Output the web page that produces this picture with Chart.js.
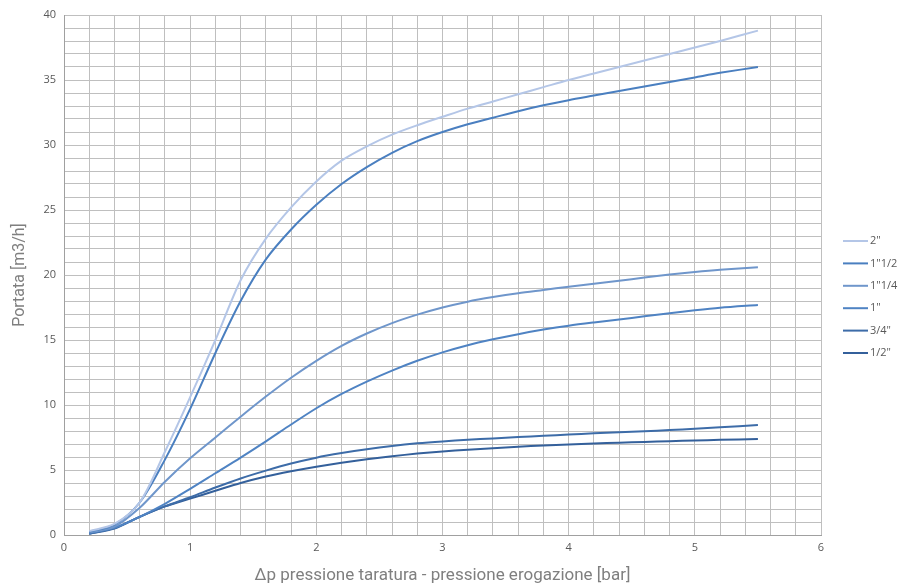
<!DOCTYPE html>
<html>
<head>
<meta charset="utf-8">
<script src="https://cdn.jsdelivr.net/npm/chart.js@4.4.1/dist/chart.umd.min.js"></script>
<style>
  html, body { margin: 0; padding: 0; background: #fff; }
  #wrap { width: 900px; height: 586px; }
</style>
</head>
<body>
<div id="wrap"><canvas id="flowChart"></canvas></div>
<script>
// Δp [bar] sample positions
const pressure = [0.2, 0.4, 0.6, 0.8, 1.0, 1.2, 1.4, 1.6, 1.8, 2.0, 2.2, 2.4, 2.6, 2.8,
  3.0, 3.2, 3.4, 3.6, 3.8, 4.0, 4.2, 4.4, 4.6, 4.8, 5.0, 5.2, 5.5];

// Portata [m3/h] per pipe size
const flow2 = [0.3, 0.85, 2.5, 6.4, 10.6, 15.0, 19.6, 22.8, 25.2, 27.2, 28.8, 29.9, 30.8, 31.52,
  32.17, 32.8, 33.35, 33.9, 34.45, 35.0, 35.5, 36.0, 36.5, 37.0, 37.5, 38.0, 38.8];
const flow1_12 = [0.25, 0.8, 2.5, 5.8, 9.7, 14.0, 18.0, 21.2, 23.5, 25.4, 27.0, 28.3, 29.4, 30.3,
  31.0, 31.6, 32.1, 32.6, 33.05, 33.45, 33.8, 34.15, 34.5, 34.85, 35.2, 35.55, 36.0];
const flow1_14 = [0.2, 0.65, 2.1, 4.1, 5.9, 7.5, 9.1, 10.65, 12.1, 13.4, 14.55, 15.5, 16.3, 16.95,
  17.5, 17.95, 18.3, 18.6, 18.85, 19.1, 19.32, 19.55, 19.8, 20.03, 20.23, 20.4, 20.6];
const flow1 = [0.15, 0.55, 1.4, 2.4, 3.55, 4.75, 5.95, 7.2, 8.5, 9.75, 10.85, 11.8, 12.65, 13.4,
  14.05, 14.6, 15.05, 15.45, 15.8, 16.1, 16.35, 16.58, 16.82, 17.05, 17.28, 17.48, 17.7];
const flow34 = [0.1, 0.55, 1.4, 2.2, 2.9, 3.65, 4.35, 4.95, 5.5, 5.95, 6.3, 6.6, 6.85, 7.05,
  7.2, 7.32, 7.43, 7.53, 7.63, 7.73, 7.82, 7.9, 7.98, 8.07, 8.17, 8.28, 8.46];
const flow12 = [0.1, 0.5, 1.4, 2.2, 2.8, 3.4, 4.0, 4.5, 4.9, 5.25, 5.56, 5.83, 6.06, 6.26,
  6.42, 6.56, 6.68, 6.79, 6.89, 6.97, 7.04, 7.1, 7.16, 7.22, 7.27, 7.32, 7.38];

const seriesLabels = ['2"', '1"1/2', '1"1/4', '1"', '3/4"', '1/2"'];
const seriesColors = ['#b4c6e7', '#4a7fc0', '#6f96cb', '#4f83c3', '#3d6ca8', '#34609b'];
const seriesValues = [flow2, flow1_12, flow1_14, flow1, flow34, flow12];

const xTitle = '\u0394p pressione taratura - pressione erogazione [bar]';
const yTitle = 'Portata [m3/h]';

const isMultiple = (v, step) => Math.abs(v / step - Math.round(v / step)) < 1e-6;

// simple side legend, Excel style: short line + label
const sideLegend = {
  id: 'sideLegend',
  afterDraw(chart) {
    const ctx = chart.ctx;
    ctx.save();
    ctx.font = '11px "Open Sans", sans-serif';
    ctx.fillStyle = '#595959';
    ctx.textBaseline = 'middle';
    chart.data.datasets.forEach((ds, i) => {
      const y = 241 + i * 22.4;
      ctx.strokeStyle = ds.borderColor;
      ctx.lineWidth = 2;
      ctx.beginPath();
      ctx.moveTo(843, y);
      ctx.lineTo(868, y);
      ctx.stroke();
      ctx.fillText(ds.label, 870, y);
    });
    ctx.restore();
  }
};

const datasets = seriesLabels.map((label, i) => ({
  label,
  data: pressure.map((x, j) => ({ x, y: seriesValues[i][j] })),
  borderColor: seriesColors[i],
  backgroundColor: seriesColors[i],
  borderWidth: 2,
  pointRadius: 0,
  tension: 0.3,
  fill: false
}));

new Chart(document.getElementById('flowChart'), {
  type: 'line',
  data: { datasets },
  plugins: [sideLegend],
  options: {
    responsive: true,
    maintainAspectRatio: false,
    animation: false,
    layout: { padding: { top: 15, right: 79, left: 0, bottom: 0 } },
    plugins: {
      legend: { display: false },
      tooltip: { enabled: false }
    },
    scales: {
      x: {
        type: 'linear',
        min: 0,
        max: 6,
        afterFit: (scale) => { scale.height = 51; },
        ticks: {
          stepSize: 0.2,
          autoSkip: false,
          maxRotation: 0,
          padding: 6,
          color: '#595959',
          font: { family: '"Open Sans", sans-serif', size: 11 },
          callback: (v) => isMultiple(v, 1) ? String(Math.round(v)) : ''
        },
        grid: { color: '#bfbfbf', lineWidth: 1, drawTicks: false },
        border: { color: '#a0a0a0' },
        title: {
          display: true,
          text: xTitle,
          color: '#7f7f7f',
          font: { family: 'Roboto, sans-serif', size: 17 },
          padding: { top: 4, bottom: 0 }
        }
      },
      y: {
        min: 0,
        max: 40,
        afterFit: (scale) => { scale.width = 64; },
        ticks: {
          stepSize: 1,
          autoSkip: false,
          padding: 8,
          color: '#595959',
          font: { family: '"Open Sans", sans-serif', size: 11 },
          callback: (v) => isMultiple(v, 5) ? String(Math.round(v)) : ''
        },
        grid: { color: '#bfbfbf', lineWidth: 1, drawTicks: false },
        border: { color: '#a0a0a0' },
        title: {
          display: true,
          text: yTitle,
          color: '#7f7f7f',
          font: { family: 'Roboto, sans-serif', size: 16 },
          padding: { top: 10, bottom: 0 }
        }
      }
    }
  }
});
</script>
</body>
</html>
